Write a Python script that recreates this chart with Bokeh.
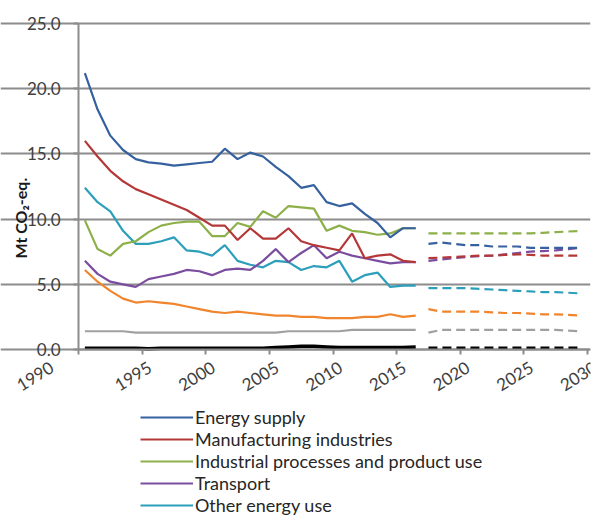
import math
from bokeh.plotting import figure
from bokeh.models import (Range1d, FixedTicker, Legend, LegendItem, Label, LabelSet, ColumnDataSource)
from bokeh.core.properties import value
from bokeh.embed import file_html
from bokeh.resources import INLINE

# ---- data (Mt CO2-eq.) ----
hist_years = list(range(1990, 2017))
proj_years = list(range(2017, 2030))

energy_supply = [21.2, 18.4, 16.4, 15.3, 14.6, 14.35, 14.25, 14.1, 14.2, 14.3, 14.4, 15.4, 14.6, 15.1, 14.8,
                 14.0, 13.3, 12.4, 12.6, 11.3, 11.0, 11.2, 10.4, 9.7, 8.6, 9.3, 9.3]
manufacturing = [16.0, 14.8, 13.7, 12.9, 12.3, 11.9, 11.5, 11.1, 10.7, 10.1, 9.5, 9.5, 8.4, 9.3, 8.5,
                 8.5, 9.3, 8.3, 8.0, 7.8, 7.6, 8.9, 7.0, 7.2, 7.3, 6.8, 6.7]
industrial = [9.9, 7.7, 7.2, 8.1, 8.3, 9.0, 9.5, 9.7, 9.8, 9.8, 8.7, 8.7, 9.7, 9.4, 10.6,
              10.1, 11.0, 10.9, 10.8, 9.1, 9.5, 9.1, 9.0, 8.8, 8.9, 9.3, 9.3]
transport = [6.8, 5.8, 5.2, 5.0, 4.8, 5.4, 5.6, 5.8, 6.1, 6.0, 5.7, 6.1, 6.2, 6.1, 6.8,
             7.7, 6.7, 7.4, 8.0, 7.0, 7.5, 7.2, 7.0, 6.8, 6.6, 6.7, 6.7]
other_energy = [12.4, 11.3, 10.6, 9.1, 8.1, 8.1, 8.3, 8.6, 7.6, 7.5, 7.2, 8.0, 6.8, 6.5, 6.3,
                6.8, 6.7, 6.1, 6.4, 6.3, 6.8, 5.2, 5.7, 5.9, 4.8, 4.9, 4.9]
agriculture = [6.1, 5.2, 4.5, 3.9, 3.6, 3.7, 3.6, 3.5, 3.3, 3.1, 2.9, 2.8, 2.9, 2.8, 2.7,
               2.6, 2.6, 2.5, 2.5, 2.4, 2.4, 2.4, 2.5, 2.5, 2.7, 2.5, 2.6]
waste = [1.4, 1.4, 1.4, 1.4, 1.3, 1.3, 1.3, 1.3, 1.3, 1.3, 1.3, 1.3, 1.3, 1.3, 1.3,
         1.3, 1.4, 1.4, 1.4, 1.4, 1.4, 1.5, 1.5, 1.5, 1.5, 1.5, 1.5]
other = [0.1, 0.1, 0.1, 0.1, 0.1, 0.05, 0.1, 0.1, 0.1, 0.1, 0.1, 0.1, 0.1, 0.1, 0.1,
         0.15, 0.2, 0.25, 0.25, 0.2, 0.15, 0.15, 0.15, 0.15, 0.15, 0.15, 0.2]

proj_energy_supply = [8.1, 8.2, 8.1, 8.0, 8.0, 7.9, 7.9, 7.9, 7.8, 7.8, 7.8, 7.8, 7.8]
proj_manufacturing = [7.0, 7.05, 7.1, 7.15, 7.2, 7.2, 7.25, 7.3, 7.25, 7.2, 7.2, 7.2, 7.2]
proj_industrial = [8.9, 8.9, 8.9, 8.9, 8.9, 8.9, 8.9, 8.9, 8.9, 8.95, 9.0, 9.05, 9.1]
proj_transport = [6.8, 6.9, 7.0, 7.1, 7.15, 7.2, 7.3, 7.4, 7.5, 7.55, 7.6, 7.7, 7.8]
proj_other_energy = [4.7, 4.7, 4.7, 4.7, 4.65, 4.6, 4.55, 4.5, 4.45, 4.4, 4.4, 4.35, 4.3]
proj_agriculture = [3.1, 2.9, 2.9, 2.9, 2.9, 2.85, 2.8, 2.8, 2.75, 2.7, 2.7, 2.65, 2.6]
proj_waste = [1.3, 1.5, 1.5, 1.5, 1.5, 1.5, 1.5, 1.5, 1.5, 1.5, 1.5, 1.45, 1.4]
proj_other = [0.1, 0.1, 0.1, 0.1, 0.1, 0.1, 0.1, 0.1, 0.1, 0.1, 0.1, 0.1, 0.1]

labels = ["Energy supply", "Manufacturing industries", "Industrial processes and product use",
          "Transport", "Other energy use"]
y_ticks = [0, 5, 10, 15, 20, 25]
x_ticks = [1990, 1995, 2000, 2005, 2010, 2015, 2020, 2025, 2030]
y_title = "Mt CO\u2082-eq."

colors = ["#36619f", "#b53838", "#8db04a", "#7a4d9e", "#2c9fbb", "#f0852e", "#a0a0a0", "#000000"]

FONT = "Lato"

# ---- layout geometry (pixels) ----
W, H = 592, 516
BORDER_TOP, BORDER_RIGHT = 10, 2
FRAME_W, FRAME_H = W - BORDER_RIGHT, H - BORDER_TOP
AXIS_X_PX = 78            # y-axis position measured from frame left
ZERO_Y_PX = 339           # y=0 position measured from frame top
PX_PER_YEAR = 12.725
PX_PER_UNIT = 13.04
X_START = 1990 - AXIS_X_PX / PX_PER_YEAR
X_END = 1990 + (FRAME_W - AXIS_X_PX) / PX_PER_YEAR
Y_END = ZERO_Y_PX / PX_PER_UNIT
Y_START = -(FRAME_H - ZERO_Y_PX) / PX_PER_UNIT

p = figure(frame_width=FRAME_W, frame_height=FRAME_H, output_backend="svg", toolbar_location=None,
           x_range=Range1d(X_START, X_END), y_range=Range1d(Y_START, Y_END),
           x_axis_location="above", y_axis_location="right",
           min_border_left=0, min_border_right=BORDER_RIGHT, min_border_top=BORDER_TOP, min_border_bottom=0)
p.outline_line_color = None
p.background_fill_color = "white"
p.border_fill_color = "white"
p.xgrid.visible = False
p.ygrid.grid_line_color = "#8c8c8c"
p.ygrid.grid_line_width = 2
p.ygrid.ticker = FixedTicker(ticks=y_ticks)
p.ygrid.bounds = (1990, X_END)

# axes drawn at data positions (x axis at y=0, y axis at 1990), ticks pointing away from the data area
p.xaxis.fixed_location = 0
p.xaxis.bounds = (1990, X_END)
p.xaxis.ticker = FixedTicker(ticks=x_ticks)
p.yaxis.fixed_location = 1990
p.yaxis.bounds = (0, 25)
p.yaxis.ticker = FixedTicker(ticks=y_ticks)
for ax in (p.xaxis[0], p.yaxis[0]):
    ax.axis_line_color = "#8c8c8c"
    ax.axis_line_width = 2
    ax.major_tick_line_color = "#8c8c8c"
    ax.major_tick_line_width = 2
    ax.major_tick_in = 5
    ax.major_tick_out = 0
    ax.minor_tick_line_color = None
    ax.major_label_text_color = None
    ax.major_label_text_font_size = "0px"
    ax.major_label_standoff = 0

hx = [y + 0.5 for y in hist_years]
px = [y + 0.5 for y in proj_years]
hist = [energy_supply, manufacturing, industrial, transport, other_energy, agriculture, waste, other]
proj = [proj_energy_supply, proj_manufacturing, proj_industrial, proj_transport, proj_other_energy,
        proj_agriculture, proj_waste, proj_other]

renderers = {}
for i in range(len(hist) - 1, -1, -1):
    w = 3.5 if i == 7 else 2.2
    p.line(px, proj[i], line_color=colors[i], line_width=w, line_dash="9 5")
for i in range(len(hist) - 1, -1, -1):
    w = 3.5 if i == 7 else 2.2
    renderers[i] = p.line(hx, hist[i], line_color=colors[i], line_width=w)

# y tick labels
ysrc = ColumnDataSource(dict(x=[1990] * len(y_ticks), y=y_ticks, t=["%.1f" % v for v in y_ticks]))
p.add_layout(LabelSet(x="x", y="y", text="t", source=ysrc, x_offset=-18,
                      text_align="right", text_baseline="middle",
                      text_font=value(FONT), text_font_size="17px", text_color="#404040"))

# x tick labels (rotated, sitting just right of each tick; the first one sits left of the axis)
LABEL_SHIFT, FIRST_SHIFT = 0.6, -2.1
xl = [t + (FIRST_SHIFT if t == x_ticks[0] else LABEL_SHIFT) for t in x_ticks]
xsrc = ColumnDataSource(dict(x=xl, y=[0] * len(x_ticks), t=[str(t) for t in x_ticks]))
p.add_layout(LabelSet(x="x", y="y", text="t", source=xsrc, y_offset=-16, angle=0.55,
                      text_align="right", text_baseline="middle",
                      text_font=value(FONT), text_font_size="17px", text_color="#404040"))

# y axis title
p.add_layout(Label(x=1990, y=0, x_offset=-58, y_offset=91, angle=math.pi / 2, text=y_title,
                   text_align="left", text_baseline="middle",
                   text_font=FONT, text_font_size="16px", text_font_style="bold", text_color="#1a1a1a"))

legend = Legend(items=[LegendItem(label=labels[i], renderers=[renderers[i]]) for i in range(5)],
                location=(140, 0), orientation="vertical",
                label_text_font=FONT, label_text_font_size="18px", label_text_color="#262626",
                glyph_width=53, glyph_height=22, label_height=22,
                label_standoff=2, spacing=0,
                padding=0, margin=0, border_line_color=None, background_fill_alpha=0)
p.add_layout(legend, "center")

open("out.html", "w").write(file_html(p, INLINE))
